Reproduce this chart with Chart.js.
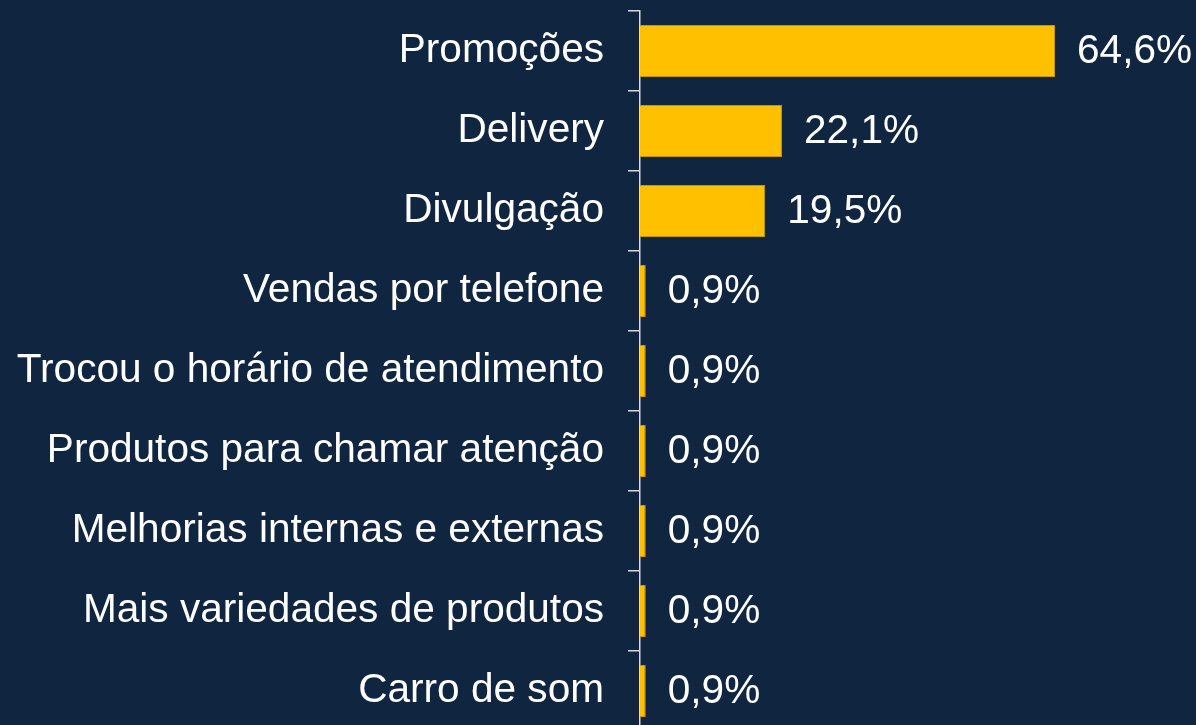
<!DOCTYPE html>
<html>
<head>
<meta charset="utf-8">
<script src="https://cdn.jsdelivr.net/npm/chart.js@4.4.1/dist/chart.umd.min.js"></script>
<style>
  html, body { margin: 0; padding: 0; background: #10253F; overflow: hidden; }
  #wrap { position: relative; width: 1196px; height: 731px; }
</style>
</head>
<body>
<div id="wrap"><canvas id="c"></canvas></div>
<script>
const categories = [
  "Promoções",
  "Delivery",
  "Divulgação",
  "Vendas por telefone",
  "Trocou o horário de atendimento",
  "Produtos para chamar atenção",
  "Melhorias internas e externas",
  "Mais variedades de produtos",
  "Carro de som"
];
const values = [64.6, 22.1, 19.5, 0.9, 0.9, 0.9, 0.9, 0.9, 0.9];
const xMin = 0;
const xMax = 86.55;

const FONT = "'Liberation Sans', Arial, sans-serif";
const FONT_SIZE = 40.6;

const valueLabelPlugin = {
  id: 'valueLabels',
  afterDatasetsDraw(chart) {
    const ctx = chart.ctx;
    const meta = chart.getDatasetMeta(0);
    ctx.save();
    ctx.fillStyle = '#FFFFFF';
    ctx.font = FONT_SIZE + 'px ' + FONT;
    ctx.textAlign = 'left';
    ctx.textBaseline = 'middle';
    meta.data.forEach((bar, i) => {
      const txt = values[i].toFixed(1).replace('.', ',') + '%';
      ctx.fillText(txt, bar.x + 22, bar.y + 1);
    });
    ctx.restore();
  }
};

new Chart(document.getElementById('c'), {
  type: 'bar',
  data: {
    labels: categories,
    datasets: [{
      data: values,
      backgroundColor: '#FFC000',
      borderColor: '#C89600',
      borderWidth: 1,
      borderSkipped: 'start',
      categoryPercentage: 1.0,
      barPercentage: 0.65
    }]
  },
  options: {
    indexAxis: 'y',
    responsive: true,
    maintainAspectRatio: false,
    animation: false,
    layout: { padding: { top: 11, bottom: 0, left: 0, right: 0 } },
    plugins: {
      legend: { display: false },
      tooltip: { enabled: false }
    },
    scales: {
      x: {
        display: false,
        min: xMin,
        max: xMax
      },
      y: {
        afterFit(scale) {
          scale.width = 640;
          scale.paddingTop = 0;
          scale.paddingBottom = 0;
          scale.paddingLeft = 0;
          scale.paddingRight = 0;
        },
        grid: {
          drawOnChartArea: false,
          drawTicks: true,
          tickLength: 12,
          color: '#D9D9D9',
          lineWidth: 1.5,
          offset: true
        },
        border: { display: true, color: '#D9D9D9', width: 1.5 },
        ticks: {
          color: '#FFFFFF',
          padding: 24,
          font: { family: FONT, size: FONT_SIZE }
        }
      }
    }
  },
  plugins: [valueLabelPlugin]
});
</script>
</body>
</html>
